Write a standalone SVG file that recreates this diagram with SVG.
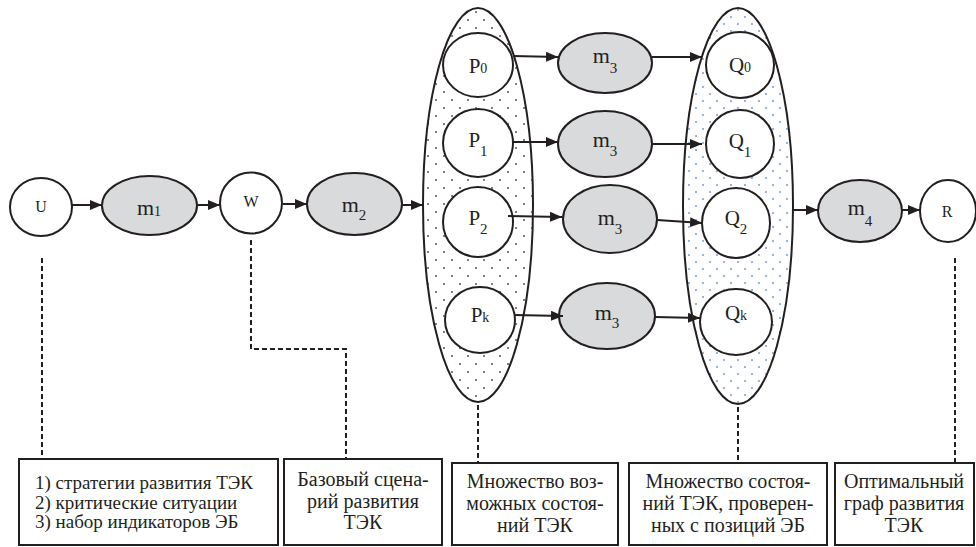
<svg xmlns="http://www.w3.org/2000/svg" width="976" height="547" viewBox="0 0 976 547">
<defs>
<pattern id="dotsK" width="16" height="16" patternUnits="userSpaceOnUse">
<circle cx="4" cy="4" r="1" fill="#555"/>
<circle cx="12" cy="12" r="1" fill="#555"/>
</pattern>
<pattern id="dotsB" width="14" height="14" patternUnits="userSpaceOnUse">
<circle cx="3" cy="3" r="1.1" fill="#7ea2d4"/>
<circle cx="10" cy="10" r="1.1" fill="#7ea2d4"/>
</pattern>
<marker id="ah" viewBox="0 0 12 10" refX="12" refY="5" markerWidth="12" markerHeight="10" markerUnits="userSpaceOnUse" orient="auto">
<path d="M0,0 L12,5 L0,10 Z" fill="#231f20"/>
</marker>
</defs>
<style>
.n{fill:#fff;stroke:#231f20;stroke-width:2}
.m{fill:#d9dadb;stroke:#231f20;stroke-width:2}
.big{stroke:#231f20;stroke-width:2}
.box{fill:#fff;stroke:#231f20;stroke-width:2}
.a{fill:none;stroke:#231f20;stroke-width:2;marker-end:url(#ah)}
.d{fill:none;stroke:#231f20;stroke-width:2;stroke-dasharray:5 3}
</style>
<rect width="976" height="547" fill="#fff"/>

<g id="setP"><ellipse class="big" cx="478" cy="205" rx="55" ry="197" fill="url(#dotsK)"/></g>
<g id="setQ"><ellipse class="big" cx="738" cy="206" rx="55" ry="198" fill="url(#dotsB)"/></g>

<g id="connectors">
<path class="a" d="M72,205 L102,205"/>
<path class="a" d="M197,205 L220,205"/>
<path class="a" d="M283,204 L307,204"/>
<path class="a" d="M402,205 L423,205"/>
<path class="a" d="M792,210 L818,210"/>
<path class="a" d="M902,210 L920,210"/>
<path class="d" d="M42,258 V459"/>
<path class="d" d="M251,240 V349 H346 V459"/>
<path class="d" d="M478,405 V463"/>
<path class="d" d="M738,407 V463"/>
<path class="d" d="M955,258 V463"/>
</g>

<g font-family="'Liberation Serif', 'Times New Roman', serif" fill="#231f20" text-anchor="middle">
<g id="U"><ellipse class="n" cx="41" cy="207" rx="31" ry="29"/><text font-size="16" x="41" y="212">U</text></g>
<g id="m1"><ellipse class="m" cx="149.5" cy="205.5" rx="47.5" ry="29.5"/><text font-size="22" x="149" y="215">m<tspan font-size="14" dy="1">1</tspan></text></g>
<g id="W"><ellipse class="n" cx="251" cy="203" rx="31" ry="30.5"/><text font-size="16" x="251" y="207">W</text></g>
<g id="m2"><ellipse class="m" cx="354.5" cy="204" rx="47.5" ry="31"/><text font-size="22" x="354" y="212">m<tspan font-size="15" dy="8">2</tspan></text></g>

<g id="P0"><ellipse class="n" cx="478" cy="65" rx="35" ry="32"/><text font-size="21" x="478" y="73">P<tspan font-size="14">0</tspan></text></g>
<g id="P1"><ellipse class="n" cx="478" cy="143" rx="35" ry="34"/><text font-size="21" x="478" y="147">P<tspan font-size="15" dy="9">1</tspan></text></g>
<g id="P2"><ellipse class="n" cx="478" cy="222" rx="35" ry="35"/><text font-size="21" x="478" y="225">P<tspan font-size="15" dy="9">2</tspan></text></g>
<g id="Pk"><ellipse class="n" cx="480" cy="320" rx="35" ry="33"/><text font-size="21" x="480" y="322">P<tspan font-size="14">k</tspan></text></g>

<g id="m3a"><ellipse class="m" cx="605" cy="63" rx="47" ry="30"/><text font-size="22" x="605" y="63">m<tspan font-size="15" dy="10">3</tspan></text></g>
<g id="m3b"><ellipse class="m" cx="605" cy="144" rx="47" ry="33"/><text font-size="22" x="605" y="147">m<tspan font-size="15" dy="9">3</tspan></text></g>
<g id="m3c"><ellipse class="m" cx="610" cy="219" rx="47" ry="34"/><text font-size="22" x="610" y="225">m<tspan font-size="15" dy="9">3</tspan></text></g>
<g id="m3d"><ellipse class="m" cx="607" cy="316" rx="48" ry="33"/><text font-size="22" x="607" y="320">m<tspan font-size="15" dy="8">3</tspan></text></g>

<g id="Q0"><ellipse class="n" cx="740" cy="65" rx="34" ry="33"/><text font-size="21" x="740" y="72">Q<tspan font-size="14">0</tspan></text></g>
<g id="Q1"><ellipse class="n" cx="740" cy="144" rx="34" ry="34"/><text font-size="21" x="740" y="148">Q<tspan font-size="15" dy="9">1</tspan></text></g>
<g id="Q2"><ellipse class="n" cx="736" cy="223" rx="34" ry="35"/><text font-size="21" x="736" y="225">Q<tspan font-size="15" dy="9">2</tspan></text></g>
<g id="Qk"><ellipse class="n" cx="736" cy="322" rx="36" ry="33"/><text font-size="21" x="736" y="320">Q<tspan font-size="14">k</tspan></text></g>

<g id="m4"><ellipse class="m" cx="860" cy="211" rx="42" ry="31"/><text font-size="22" x="860" y="215">m<tspan font-size="15" dy="11">4</tspan></text></g>
<g id="R"><ellipse class="n" cx="948" cy="211" rx="28" ry="31"/><text font-size="16" x="947" y="217">R</text></g>
</g>

<g id="connectors2">
<path class="a" d="M513,56 L558,57"/>
<path class="a" d="M652,57 L702,57"/>
<path class="a" d="M513,142 L558,142"/>
<path class="a" d="M652,144 L702,144"/>
<path class="a" d="M508,216 L562,217"/>
<path class="a" d="M657,220 L702,223"/>
<path class="a" d="M514,315 L563,316"/>
<path class="a" d="M655,317 L700,318"/>
</g>

<g font-family="'Liberation Serif', 'Times New Roman', serif" font-size="20" fill="#231f20" text-anchor="middle">
<g id="box1" font-size="19"><rect class="box" x="19" y="459" width="259" height="86"/>
<text text-anchor="start" x="35" y="489">1) стратегии развития ТЭК</text>
<text text-anchor="start" x="35" y="509">2) критические ситуации</text>
<text text-anchor="start" x="35" y="528">3) набор индикаторов ЭБ</text></g>
<g id="box2"><rect class="box" x="284" y="459" width="158" height="86"/>
<text x="363" y="486">Базовый сцена-</text>
<text x="363" y="508">рий развития</text>
<text x="363" y="529">ТЭК</text></g>
<g id="box3"><rect class="box" x="452" y="463" width="166" height="82"/>
<text x="535" y="488">Множество воз-</text>
<text x="535" y="510">можных состоя-</text>
<text x="535" y="532">ний ТЭК</text></g>
<g id="box4"><rect class="box" x="629" y="463" width="198" height="82"/>
<text x="728" y="488">Множество состоя-</text>
<text x="728" y="510">ний ТЭК, проверен-</text>
<text x="728" y="532">ных с позиций ЭБ</text></g>
<g id="box5"><rect class="box" x="835" y="463" width="139" height="82"/>
<text x="904" y="488">Оптимальный</text>
<text x="904" y="510">граф развития</text>
<text x="904" y="532">ТЭК</text></g>
</g>
</svg>
